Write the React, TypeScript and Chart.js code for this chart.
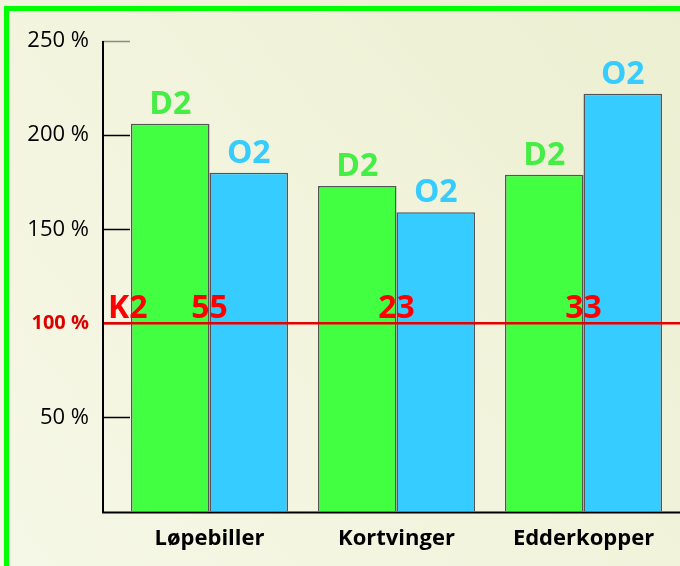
import { useEffect, useRef } from 'react';
import { Chart, registerables } from 'chart.js';

Chart.register(...registerables);

const categories = ['Løpebiller', 'Kortvinger', 'Edderkopper'];
const seriesNames = ['D2', 'O2'];
const d2Values = [206, 173, 179];
const o2Values = [180, 159, 222];
const referenceValue = 100;
const referenceName = 'K2';
const referenceLabels = ['55', '23', '33'];
const yMin = 0;
const yMax = 250;
const yStep = 50;

const FONT = '"Open Sans", "DejaVu Sans", sans-serif';
const GREEN = '#42ff42';
const GREEN_TEXT = '#44ee44';
const BLUE = '#36ccff';
const RED = '#ff0000';

const decorPlugin = {
  id: 'decor',
  beforeDraw(chart: any) {
    const { ctx, width, height } = chart;
    const g = ctx.createLinearGradient(0, height, width, 0);
    g.addColorStop(0, '#f6f8e7');
    g.addColorStop(1, '#edefd2');
    ctx.save();
    ctx.fillStyle = g;
    ctx.fillRect(0, 0, width, height);
    ctx.fillStyle = '#00ff00';
    ctx.fillRect(4, 6, 5, height - 6);
    ctx.fillRect(4, 6, width - 4, 5);
    ctx.restore();
  },
  beforeDatasetsDraw(chart: any) {
    const { ctx, chartArea, scales } = chart;
    const y = scales.y;
    const axisX = chartArea.left - 14;
    ctx.save();
    ctx.lineWidth = 1.5;
    y.ticks.forEach((t: any) => {
      if (t.value <= yMin) return;
      const py = Math.round(y.getPixelForValue(t.value)) + 0.5;
      ctx.strokeStyle = t.value === yMax ? '#8a8a80' : '#000';
      ctx.beginPath();
      ctx.moveTo(axisX, py);
      ctx.lineTo(chartArea.left + 14, py);
      ctx.stroke();
    });
    ctx.restore();
  },
  afterDatasetsDraw(chart: any) {
    const { ctx, chartArea, scales, width } = chart;
    const y = scales.y;
    const x = scales.x;
    const axisX = chartArea.left - 14;
    ctx.save();
    // axes
    ctx.strokeStyle = '#000';
    ctx.lineWidth = 2;
    ctx.beginPath();
    ctx.moveTo(axisX + 1, y.getPixelForValue(yMax));
    ctx.lineTo(axisX + 1, chartArea.bottom + 1);
    ctx.lineTo(width, chartArea.bottom + 1);
    ctx.stroke();

    // series labels above bars
    ctx.font = 'bold 32px ' + FONT;
    ctx.textAlign = 'center';
    ctx.textBaseline = 'alphabetic';
    chart.data.datasets.forEach((ds: any, di: number) => {
      const meta = chart.getDatasetMeta(di);
      ctx.fillStyle = di === 0 ? GREEN_TEXT : BLUE;
      meta.data.forEach((bar: any) => {
        ctx.fillText(ds.label, bar.x, bar.y - 10);
      });
    });

    // reference line
    const ry = y.getPixelForValue(referenceValue);
    ctx.strokeStyle = '#e80000';
    ctx.lineWidth = 2.5;
    ctx.beginPath();
    ctx.moveTo(axisX + 2, ry);
    ctx.lineTo(width, ry);
    ctx.stroke();

    ctx.fillStyle = RED;
    ctx.font = 'bold 32px ' + FONT;
    ctx.textAlign = 'left';
    ctx.fillText(referenceName, axisX + 6, ry - 5);
    ctx.textAlign = 'center';
    referenceLabels.forEach((lab, i) => {
      ctx.fillText(lab, x.getPixelForValue(i), ry - 5);
    });
    ctx.restore();
  },
};

export default function App() {
  const ref = useRef<HTMLCanvasElement>(null);
  useEffect(() => {
    if (!ref.current) return;
    const chart = new Chart(ref.current, {
      type: 'bar',
      data: {
        labels: categories,
        datasets: [
          {
            label: seriesNames[0],
            data: d2Values,
            backgroundColor: GREEN,
            borderColor: '#555',
            borderWidth: 1.5,
          },
          {
            label: seriesNames[1],
            data: o2Values,
            backgroundColor: BLUE,
            borderColor: '#555',
            borderWidth: 1.5,
          },
        ],
      },
      options: {
        responsive: false,
        animation: false,
        devicePixelRatio: 1,
        layout: { padding: { top: 41, right: 3, bottom: 0, left: 0 } },
        plugins: { legend: { display: false }, tooltip: { enabled: false } },
        datasets: { bar: { categoryPercentage: 0.84, barPercentage: 1 } },
        scales: {
          x: {
            grid: { display: false, drawTicks: false },
            border: { display: false },
            ticks: {
              color: '#000',
              font: { family: FONT, size: 22, weight: 'bold' },
              padding: 14,
            },
          },
          y: {
            min: yMin,
            max: yMax,
            grid: { display: false, drawTicks: false },
            border: { display: false },
            afterFit: (scale: any) => {
              scale.width = 116;
            },
            ticks: {
              stepSize: yStep,
              padding: 27,
              callback: (v: any) => (Number(v) === yMin ? '' : v + ' %'),
              color: (c: any) => (c.tick && c.tick.value === referenceValue ? '#dd0000' : '#000'),
              font: (c: any) => ({
                family: FONT,
                size: c.tick && c.tick.value === referenceValue ? 20 : 22,
                weight: c.tick && c.tick.value === referenceValue ? 'bold' : 'normal',
              }),
            },
          },
        },
      },
      plugins: [decorPlugin],
    });
    return () => chart.destroy();
  }, []);
  return (
    <div style={{ position: 'absolute', left: 0, top: 0, width: 680, height: 566 }}>
      <canvas ref={ref} width={680} height={566} style={{ display: 'block' }} />
    </div>
  );
}
